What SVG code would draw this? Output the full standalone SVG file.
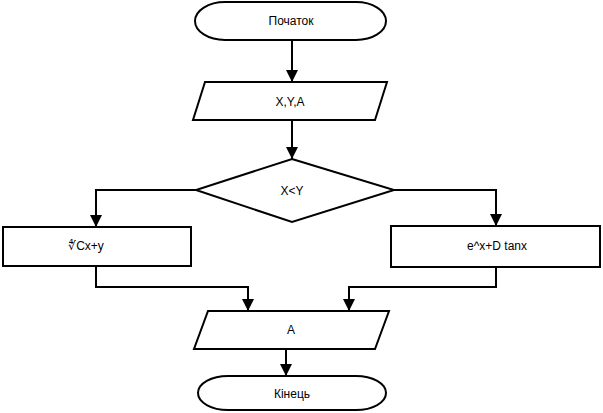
<svg xmlns="http://www.w3.org/2000/svg" width="603" height="413" viewBox="0 0 603 413">
<style>
.s{fill:#fff;stroke:#000;stroke-width:2}
.t{font-family:"Liberation Sans",Arial,sans-serif;font-size:12px;fill:#000;text-anchor:middle;dominant-baseline:central}
.c{fill:none;stroke:#000;stroke-width:2}
</style>
<defs>
<marker id="a" markerWidth="12" markerHeight="12" viewBox="0 0 12 12" refX="12" refY="6" orient="auto" markerUnits="userSpaceOnUse">
<path d="M0,0 L12,6 L0,12 Z" fill="#000"/>
</marker>
</defs>
<g id="connectors">
<path class="c" d="M292,40 V82" marker-end="url(#a)"/>
<path class="c" d="M292,120 V159" marker-end="url(#a)"/>
<path class="c" d="M196,190 H96 V227" marker-end="url(#a)"/>
<path class="c" d="M394,190 H496 V226" marker-end="url(#a)"/>
<path class="c" d="M96,266 V287 H248 V311" marker-end="url(#a)"/>
<path class="c" d="M496,267 V287 H349 V311" marker-end="url(#a)"/>
<path class="c" d="M286,349 V376" marker-end="url(#a)"/>
</g>
<g id="start">
<rect class="s" x="195" y="2" width="191" height="38" rx="30" ry="19"/>
<text class="t" x="291" y="21">Початок</text>
</g>
<g id="input">
<polygon class="s" points="205,82 387,82 375,120 193,120"/>
<text class="t" x="290" y="102">X,Y,A</text>
</g>
<g id="decision">
<polygon class="s" points="292,159 394,190 292,222 196,190"/>
<text class="t" x="292" y="191">X&lt;Y</text>
</g>
<g id="left">
<rect class="s" x="3" y="227" width="188" height="39"/>
<text class="t" x="86" y="246">∜Cx+y</text>
</g>
<g id="right">
<rect class="s" x="391" y="226" width="209" height="41"/>
<text class="t" x="497" y="246">e^x+D tanx</text>
</g>
<g id="output">
<polygon class="s" points="208,311 389,311 375,349 194,349"/>
<text class="t" x="291" y="330">A</text>
</g>
<g id="end">
<rect class="s" x="198" y="376" width="188" height="34" rx="30" ry="17"/>
<text class="t" x="292" y="394">Кінець</text>
</g>
</svg>
